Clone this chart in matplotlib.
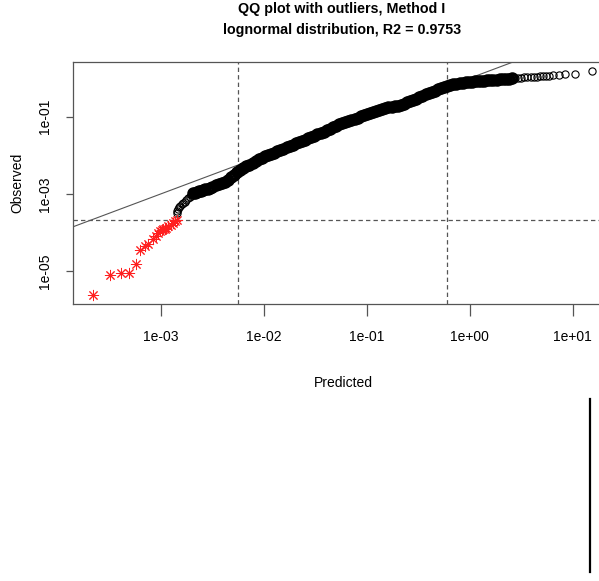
import numpy as np
import matplotlib.pyplot as plt
from matplotlib.lines import Line2D

plt.rcParams['font.family'] = ['Liberation Sans', 'DejaVu Sans']

# valores (log10)
# outliers (asteriscos vermelhos)
out_pred = [-3.663, -3.495, -3.391, -3.311, -3.243, -3.204, -3.155, -3.123, -3.075,
            -3.049, -3.030, -3.010, -2.990, -2.978, -2.960, -2.951, -2.929, -2.906,
            -2.881, -2.864, -2.848]
out_obs = [-5.62, -5.11, -5.04, -5.04, -4.83, -4.46, -4.34, -4.29, -4.16,
           -4.08, -4.02, -3.95, -3.93, -3.91, -3.90, -3.88, -3.84, -3.80,
           -3.76, -3.71, -3.69]

# pontos restantes (circulos)
pred = [-2.848, -2.842, -2.835, -2.826, -2.812, -2.798, -2.783, -2.768, -2.752, -2.737,
        -2.722, -2.706, -2.690, -2.672, -2.652, -2.632, -2.612, -2.590, -2.568, -2.546,
        -2.524,
        -2.50, -2.47, -2.44, -2.41, -2.38, -2.35, -2.32, -2.29, -2.26, -2.23,
        -2.20, -2.17, -2.14, -2.11, -2.08, -2.05, -2.02, -1.99, -1.96, -1.93,
        -1.90, -1.87, -1.84, -1.81, -1.78, -1.75, -1.72, -1.69, -1.66, -1.63,
        -1.60, -1.57, -1.54, -1.51, -1.48, -1.45, -1.42, -1.39, -1.36, -1.33,
        -1.30, -1.27, -1.24, -1.21, -1.18, -1.15, -1.12, -1.09, -1.06, -1.03,
        -1.00, -0.97, -0.94, -0.91, -0.88, -0.85, -0.82, -0.79, -0.76, -0.73,
        -0.70, -0.67, -0.64, -0.61, -0.58, -0.55, -0.52, -0.49, -0.46, -0.43,
        -0.40, -0.37, -0.34, -0.31, -0.28, -0.25, -0.22, -0.19, -0.16, -0.13,
        -0.10, -0.07, -0.04, -0.01, 0.02, 0.05, 0.08, 0.11, 0.14, 0.17,
        0.20, 0.23, 0.26, 0.29, 0.32, 0.35, 0.38, 0.41, 0.44, 0.47,
        0.50, 0.53, 0.56, 0.59, 0.62, 0.65, 0.68, 0.71, 0.74, 0.77,
        0.809, 0.864, 0.922, 1.019, 1.187]
obs = [-3.50, -3.45, -3.40, -3.35, -3.31, -3.27, -3.24, -3.20, -3.16, -3.12,
       -3.08, -3.03, -2.99, -2.965, -2.945, -2.93, -2.915, -2.90, -2.885, -2.865,
       -2.845,
       -2.81, -2.78, -2.74, -2.71, -2.68, -2.64, -2.57, -2.50, -2.43, -2.39,
       -2.34, -2.29, -2.25, -2.20, -2.15, -2.10, -2.06, -2.03, -1.99, -1.96,
       -1.93, -1.89, -1.86, -1.83, -1.79, -1.76, -1.73, -1.69, -1.66, -1.63,
       -1.60, -1.56, -1.53, -1.50, -1.46, -1.43, -1.39, -1.35, -1.31, -1.27,
       -1.23, -1.19, -1.16, -1.13, -1.10, -1.08, -1.05, -1.02, -0.99, -0.96,
       -0.94, -0.91, -0.88, -0.85, -0.82, -0.80, -0.78, -0.76, -0.75, -0.73,
       -0.71, -0.69, -0.66, -0.63, -0.59, -0.56, -0.53, -0.49, -0.45, -0.41,
       -0.38, -0.35, -0.32, -0.29, -0.26, -0.23, -0.20, -0.18, -0.16, -0.14,
       -0.13, -0.12, -0.11, -0.10, -0.09, -0.085, -0.075, -0.07, -0.06, -0.055,
       -0.05, -0.045, -0.04, -0.03, -0.025, -0.02, -0.01, -0.005, 0.0, 0.01,
       0.015, 0.02, 0.025, 0.03, 0.035, 0.04, 0.045, 0.05, 0.055, 0.065,
       0.075, 0.095, 0.10, 0.11, 0.18]

# limites usados para os outliers
pred_lo, pred_hi = 0.0056, 0.607
obs_lo = 2.15e-4

x = 10**np.array(pred)
y = 10**np.array(obs)
# trecho central, onde os circulos se sobrepoem e formam uma faixa preta
denso = (np.array(pred) > -2.70) & (np.array(pred) < 0.42)

fig = plt.figure(figsize=(5.99, 5.81), dpi=100)
ax = fig.add_axes([0.1214, 0.4763, 0.9003, 0.4176])
ax.set_xscale('log')
ax.set_yscale('log')
ax.set_xlim(10**-3.857, 10**1.381)
ax.set_ylim(10**-5.863, 10**0.429)

cinza = '#555555'
ax.axline((1e-3, 1e-3), (1, 1), color=cinza, lw=0.8, zorder=1)
ax.axvline(pred_lo, color=cinza, lw=0.9, ls=(0, (3.5, 2.5)), zorder=1)
ax.axvline(pred_hi, color=cinza, lw=0.9, ls=(0, (3.5, 2.5)), zorder=1)
ax.axhline(obs_lo, color=cinza, lw=0.9, ls=(0, (3.5, 2.5)), zorder=1)

ax.plot(x, y, 'o', ms=5.2, mfc='none', mec='black', mew=0.8, zorder=3)
ax.plot(x[denso], y[denso], 'o', ms=6.6, mfc='none', mec='black', mew=2.4, zorder=3)
ax.plot(10**np.array(out_pred), 10**np.array(out_obs), ls='none', marker=(8, 2, 0),
        ms=8, mec='#ff2020', mew=0.7, zorder=3)

ax.set_xticks([1e-3, 1e-2, 1e-1, 1e0, 1e1])
ax.set_xticklabels(['1e-03', '1e-02', '1e-01', '1e+00', '1e+01'])
ax.set_yticks([1e-5, 1e-3, 1e-1])
ax.set_yticklabels(['1e-05', '1e-03', '1e-01'], rotation=90, va='center')
ax.minorticks_off()
ax.tick_params(axis='x', length=8.6, width=0.9, color=cinza, pad=10, labelsize=10)
ax.tick_params(axis='y', length=5, width=0.9, color=cinza, pad=10, labelsize=10)

for s in ['left', 'top', 'bottom']:
    ax.spines[s].set_color(cinza)
    ax.spines[s].set_linewidth(0.9)
ax.spines['right'].set_visible(False)

ax.set_xlabel('Predicted', fontsize=10)
ax.set_ylabel('Observed', fontsize=10)
ax.xaxis.set_label_coords(0.501, -0.324)
ax.xaxis.label.set_va('center')
ax.yaxis.set_label_coords(-0.1033, 0.5)
ax.yaxis.label.set_va('center')

fig.text(0.571, 1 - 12.7 / 581, 'QQ plot with outliers, Method I', ha='center',
         va='baseline', fontsize=10.3, fontweight='bold')
fig.text(0.571, 1 - 34.3 / 581, 'lognormal distribution, R2 = 0.9753', ha='center',
         va='baseline', fontsize=10.3, fontweight='bold')

# linha vertical solta no canto inferior direito
fig.add_artist(Line2D([590 / 599, 590 / 599], [1 - 399 / 581, 1 - 572 / 581],
                      color='black', lw=1.6))

fig.savefig('out.png', dpi=100)
